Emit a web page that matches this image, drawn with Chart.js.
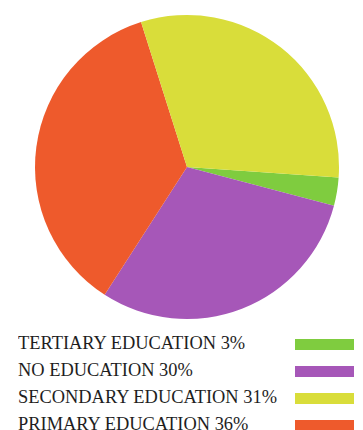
<!DOCTYPE html>
<html>
<head>
<meta charset="utf-8">
<script src="https://cdn.jsdelivr.net/npm/chart.js@4/dist/chart.umd.min.js"></script>
<style>
  body { margin: 0; background: #fff; width: 363px; height: 430px; overflow: hidden; position: relative; }
  #wrap { position: absolute; left: 0; top: 0; width: 363px; height: 322px; }
  #legend { position: absolute; left: 0; top: 333px; width: 363px; font-family: "Liberation Serif", "Times New Roman", serif; font-size: 19px; color: #1e1e1e; }
  .row { position: relative; height: 27px; line-height: 20px; }
  .row span.txt { position: absolute; left: 18px; top: 0; white-space: nowrap; transform-origin: 0 0; }
  .row span.box { position: absolute; left: 295px; top: 6px; width: 59px; height: 11px; }
</style>
</head>
<body>
<div id="wrap"><canvas id="pie"></canvas></div>
<div id="legend"></div>
<script>
'use strict';

// pie order (clockwise from just below 3 o'clock)
var categories = ["TERTIARY EDUCATION", "NO EDUCATION", "PRIMARY EDUCATION", "SECONDARY EDUCATION"];
var shares = [3, 30, 36, 31];
var colors = ["#7fcc3f", "#a657b8", "#ee5a2c", "#d9dd3a"];
// order the key is printed in
var legendOrder = ["TERTIARY EDUCATION", "NO EDUCATION", "SECONDARY EDUCATION", "PRIMARY EDUCATION"];

var ctx = document.getElementById('pie').getContext('2d');
var chart = new Chart(ctx, {
    type: 'pie',
    data: {
        labels: categories,
        datasets: [{
            data: shares,
            backgroundColor: colors,
            borderWidth: 0
        }]
    },
    options: {
        responsive: true,
        maintainAspectRatio: false,
        animation: false,
        rotation: 94,
        layout: { padding: { left: 35, right: 24, top: 15, bottom: 3 } },
        plugins: {
            legend: { display: false },
            tooltip: { enabled: false }
        }
    }
});

var legend = document.getElementById('legend');
var spans = [];
legendOrder.forEach(function(name) {
    var i = categories.indexOf(name);
    var row = document.createElement('div');
    row.className = 'row';
    var txt = document.createElement('span');
    txt.className = 'txt';
    txt.textContent = name + ' ' + shares[i] + '%';
    var box = document.createElement('span');
    box.className = 'box';
    box.style.background = colors[i];
    row.appendChild(txt);
    row.appendChild(box);
    legend.appendChild(row);
    spans.push(txt);
});

// longest label runs to about x=277 in the original
var widest = 0;
spans.forEach(function(s) { widest = Math.max(widest, s.getBoundingClientRect().width); });
var k = 259 / widest;
spans.forEach(function(s) { s.style.transform = 'scaleX(' + k + ')'; });
</script>
</body>
</html>
